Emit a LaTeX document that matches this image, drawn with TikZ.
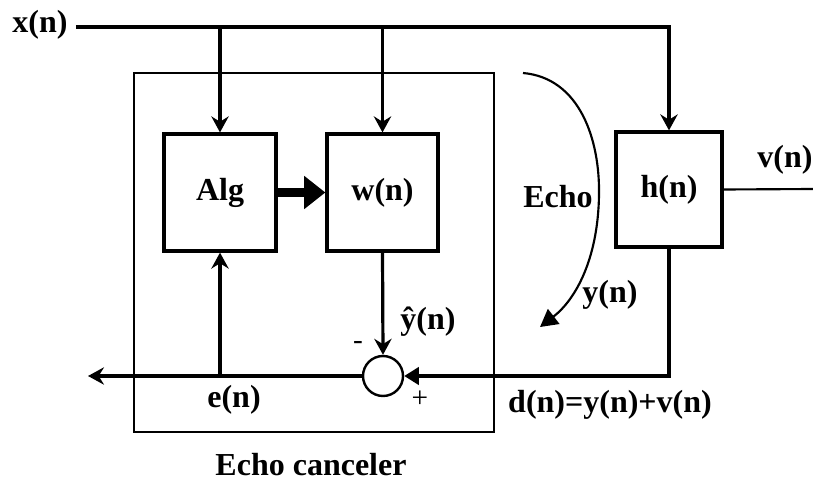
\documentclass[tikz,border=0pt]{standalone}
\usepackage{fontspec}
\setmainfont{Liberation Serif}
\usetikzlibrary{arrows.meta}
\begin{document}
\begin{tikzpicture}[x=0.75pt,y=-0.75pt,
  lbl/.style={font=\fontsize{24}{28}\selectfont\bfseries, inner sep=0pt},
  sgn/.style={font=\fontsize{22}{26}\selectfont, inner sep=0pt},
  blk/.style={draw, line width=2.4pt, lbl},
  wire/.style={line width=2.4pt},
  barb/.style={-{Stealth[length=12pt,width=13pt,inset=4pt]}},
  fillarrow/.style={-{Triangle[length=11pt,width=13pt]}},
]
\useasboundingbox (0,0) rectangle (813,481);
% outer canceler box
\node[draw, line width=1pt, minimum width=270pt, minimum height=269.25pt, inner sep=0pt] (canc) at (314,252.5) {};
% blocks
\node[blk, minimum width=84pt, minimum height=87.75pt] (alg) at (220,192.5) {Alg};
\node[blk, minimum width=83.25pt, minimum height=87.75pt] (w) at (382.5,192.5) {w(n)};
\node[blk, minimum width=79.5pt, minimum height=86.25pt] (h) at (669,189.5) {h(n)};
\node[draw, circle, line width=1.8pt, minimum size=30pt, inner sep=0pt] (sum) at (383,376) {};
% labels
\node[lbl] (xn) at (40,25) {x(n)};
\node[lbl] (vn) at (785,160) {v(n)};
\node[lbl] (echo) at (558,197) {Echo};
\node[lbl] (yn) at (610,295) {y(n)};
\node[lbl] (yhat) at (428,322) {ŷ(n)};
\node[lbl] (en) at (234,400) {e(n)};
\node[lbl] (dn) at (610,405) {d(n)=y(n)+v(n)};
\node[lbl] (ec) at (311,465) {Echo canceler};
\node[sgn] (minus) at (358,345) {-};
\node[sgn] (plus) at (420,399) {+};
% coordinates
\coordinate (xtop) at (669,27);
\coordinate (outl) at (88,376);
\coordinate (vend) at (813,189);
\coordinate (es) at (523,73);
\coordinate (ee) at (540,327);
% connectors
\draw[wire, barb] (xn.east |- xtop) ++(8,0) -- (xtop) -- (h.north);
\draw[wire, barb] (alg.north |- xtop) -- (alg.north);
\draw[wire, barb] (w.north |- xtop) -- (w.north);
\draw[line width=7pt, -{Triangle[length=16pt,width=24pt]}] (alg) -- (w);
\draw[wire, barb] (w.south) -- (sum.north);
\draw[wire, fillarrow] (h.south) -- (h.south |- sum) -- (sum.east);
\draw[wire, barb] (sum.west) -- (outl);
\draw[wire, barb] (alg.south |- sum) -- (alg.south);
\draw[line width=1.6pt] (h.east) -- (vend);
\draw[line width=1.6pt, -{Triangle[length=13pt,width=14pt]}] (es) .. controls (580,78) and (600,140) .. (599,195) .. controls (598,260) and (575,300) .. (ee);
\end{tikzpicture}
\end{document}
